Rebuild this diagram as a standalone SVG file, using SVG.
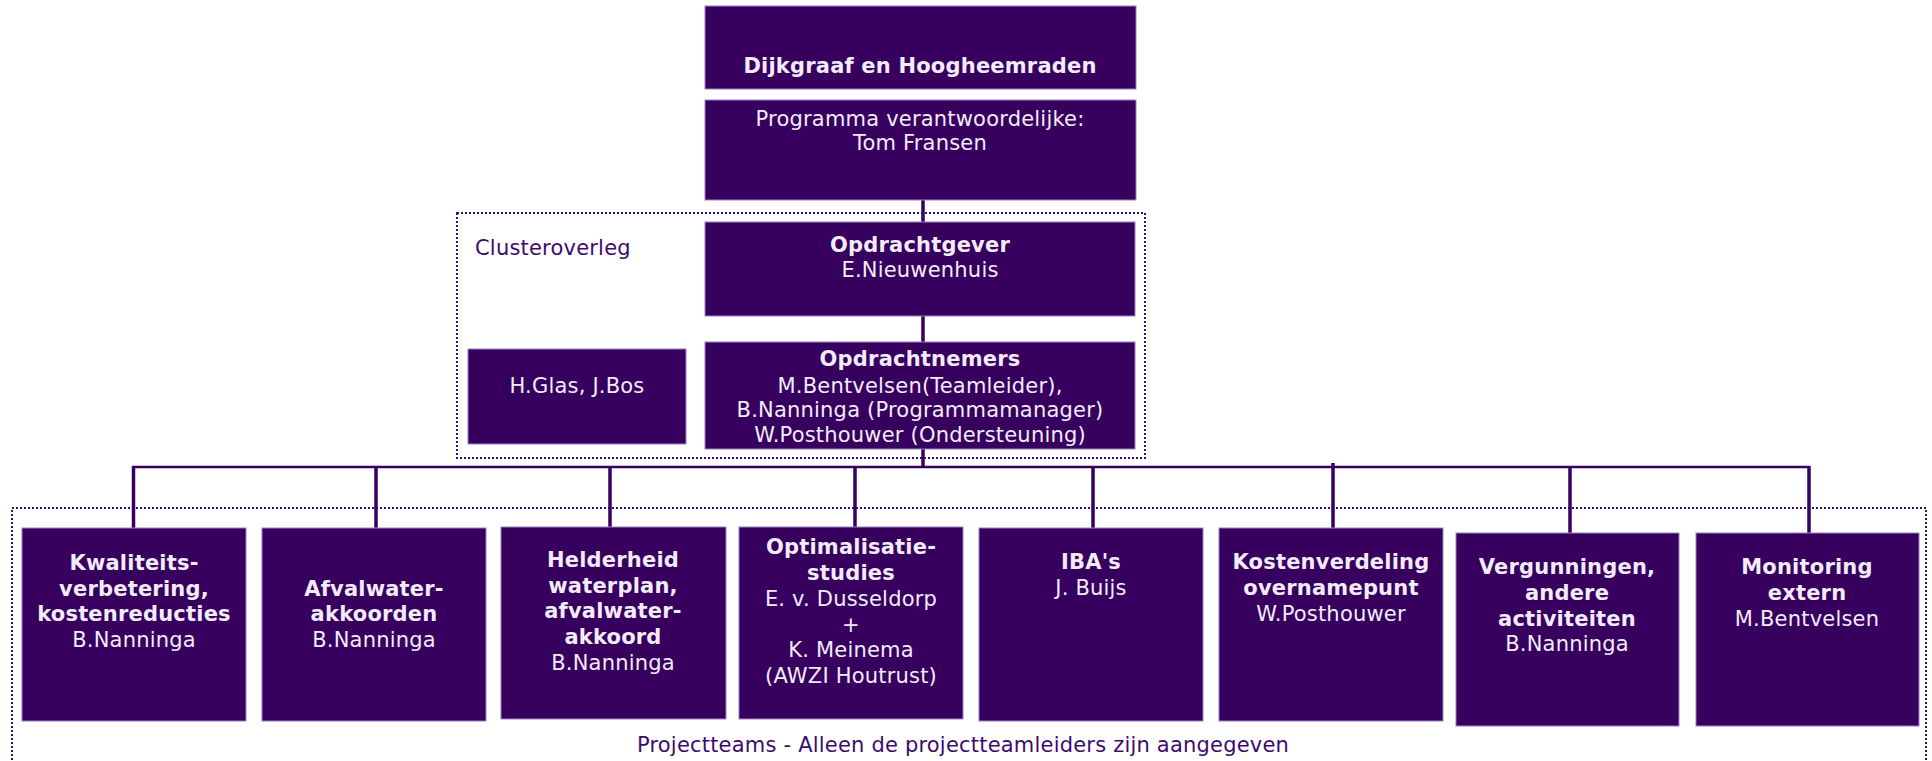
<svg xmlns="http://www.w3.org/2000/svg" width="1932" height="761" viewBox="0 0 1932 761">
<style>
.box{fill:#37005f;stroke:#9a80c0;stroke-width:1}
.t{font-family:"DejaVu Sans","Verdana",sans-serif;font-size:21px;letter-spacing:0.2px;fill:#f2ecf8;text-anchor:middle}
.b{font-weight:bold}
.lbl{font-family:"DejaVu Sans","Verdana",sans-serif;font-size:21px;letter-spacing:0.2px;fill:#3d0b6e}
.dot{fill:none;stroke:#3d0b6e;stroke-width:2;stroke-dasharray:2 2}
.ln{stroke:#37005f;fill:none}
</style>
<rect width="1932" height="761" fill="#ffffff"/>
<g id="groups">
<rect class="dot" x="457" y="213" width="688" height="245"/>
<text class="lbl" x="475" y="255">Clusteroverleg</text>
<rect class="dot" x="12" y="508" width="1914" height="262"/>
<text class="lbl" x="963" y="752" text-anchor="middle">Projectteams - Alleen de projectteamleiders zijn aangegeven</text>
</g>
<g id="connectors">
<line class="ln" x1="923" y1="200" x2="923" y2="222" stroke-width="3.5"/>
<line class="ln" x1="923" y1="316" x2="923" y2="342" stroke-width="3.5"/>
<line class="ln" x1="923" y1="449" x2="923" y2="467" stroke-width="3.5"/>
<line class="ln" x1="132" y1="467" x2="1810" y2="467" stroke-width="2.5"/>
<line class="ln" x1="133.5" y1="466" x2="133.5" y2="528" stroke-width="3.5"/>
<line class="ln" x1="376" y1="466" x2="376" y2="528" stroke-width="3.5"/>
<line class="ln" x1="610" y1="466" x2="610" y2="527" stroke-width="3.5"/>
<line class="ln" x1="855" y1="466" x2="855" y2="527" stroke-width="3.5"/>
<line class="ln" x1="1093" y1="466" x2="1093" y2="528" stroke-width="3.5"/>
<line class="ln" x1="1333" y1="463" x2="1333" y2="528" stroke-width="3.5"/>
<line class="ln" x1="1570" y1="466" x2="1570" y2="533" stroke-width="3.5"/>
<line class="ln" x1="1809" y1="466" x2="1809" y2="533" stroke-width="3.5"/>
</g>
<g id="n-dijkgraaf">
<rect class="box" x="705" y="6" width="431" height="83"/>
<text class="t b" x="920" y="73">Dijkgraaf en Hoogheemraden</text>
</g>
<g id="n-programma">
<rect class="box" x="705" y="100" width="431" height="100"/>
<text class="t" x="920" y="126">Programma verantwoordelijke:</text>
<text class="t" x="920" y="150">Tom Fransen</text>
</g>
<g id="n-opdrachtgever">
<rect class="box" x="705" y="222" width="430" height="94"/>
<text class="t b" x="920" y="252">Opdrachtgever</text>
<text class="t" x="920" y="277">E.Nieuwenhuis</text>
</g>
<g id="n-opdrachtnemers">
<rect class="box" x="705" y="342" width="430" height="107"/>
<text class="t b" x="920" y="366">Opdrachtnemers</text>
<text class="t" x="920" y="393">M.Bentvelsen(Teamleider),</text>
<text class="t" x="920" y="417">B.Nanninga (Programmamanager)</text>
<text class="t" x="920" y="442">W.Posthouwer (Ondersteuning)</text>
</g>
<g id="n-hglas">
<rect class="box" x="468" y="349" width="218" height="95"/>
<text class="t" x="577" y="393">H.Glas, J.Bos</text>
</g>
<g id="n-kwaliteit">
<rect class="box" x="22" y="528" width="224" height="193"/>
<text class="t b" x="134" y="570">Kwaliteits-</text>
<text class="t b" x="134" y="596">verbetering,</text>
<text class="t b" x="134" y="621">kostenreducties</text>
<text class="t" x="134" y="647">B.Nanninga</text>
</g>
<g id="n-afvalwater">
<rect class="box" x="262" y="528" width="224" height="193"/>
<text class="t b" x="374" y="596">Afvalwater-</text>
<text class="t b" x="374" y="621">akkoorden</text>
<text class="t" x="374" y="647">B.Nanninga</text>
</g>
<g id="n-helderheid">
<rect class="box" x="501" y="527" width="225" height="192"/>
<text class="t b" x="613" y="567">Helderheid</text>
<text class="t b" x="613" y="593">waterplan,</text>
<text class="t b" x="613" y="618">afvalwater-</text>
<text class="t b" x="613" y="644">akkoord</text>
<text class="t" x="613" y="670">B.Nanninga</text>
</g>
<g id="n-optimalisatie">
<rect class="box" x="739" y="527" width="224" height="192"/>
<text class="t b" x="851" y="554">Optimalisatie-</text>
<text class="t b" x="851" y="580">studies</text>
<text class="t" x="851" y="606">E. v. Dusseldorp</text>
<text class="t" x="851" y="632">+</text>
<text class="t" x="851" y="657">K. Meinema</text>
<text class="t" x="851" y="683">(AWZI Houtrust)</text>
</g>
<g id="n-iba">
<rect class="box" x="979" y="528" width="224" height="193"/>
<text class="t b" x="1091" y="569">IBA's</text>
<text class="t" x="1091" y="595">J. Buijs</text>
</g>
<g id="n-kostenverdeling">
<rect class="box" x="1219" y="528" width="224" height="193"/>
<text class="t b" x="1331" y="569">Kostenverdeling</text>
<text class="t b" x="1331" y="595">overnamepunt</text>
<text class="t" x="1331" y="621">W.Posthouwer</text>
</g>
<g id="n-vergunningen">
<rect class="box" x="1456" y="533" width="223" height="193"/>
<text class="t b" x="1567" y="574">Vergunningen,</text>
<text class="t b" x="1567" y="600">andere</text>
<text class="t b" x="1567" y="626">activiteiten</text>
<text class="t" x="1567" y="651">B.Nanninga</text>
</g>
<g id="n-monitoring">
<rect class="box" x="1696" y="533" width="223" height="193"/>
<text class="t b" x="1807" y="574">Monitoring</text>
<text class="t b" x="1807" y="600">extern</text>
<text class="t" x="1807" y="626">M.Bentvelsen</text>
</g>
</svg>
